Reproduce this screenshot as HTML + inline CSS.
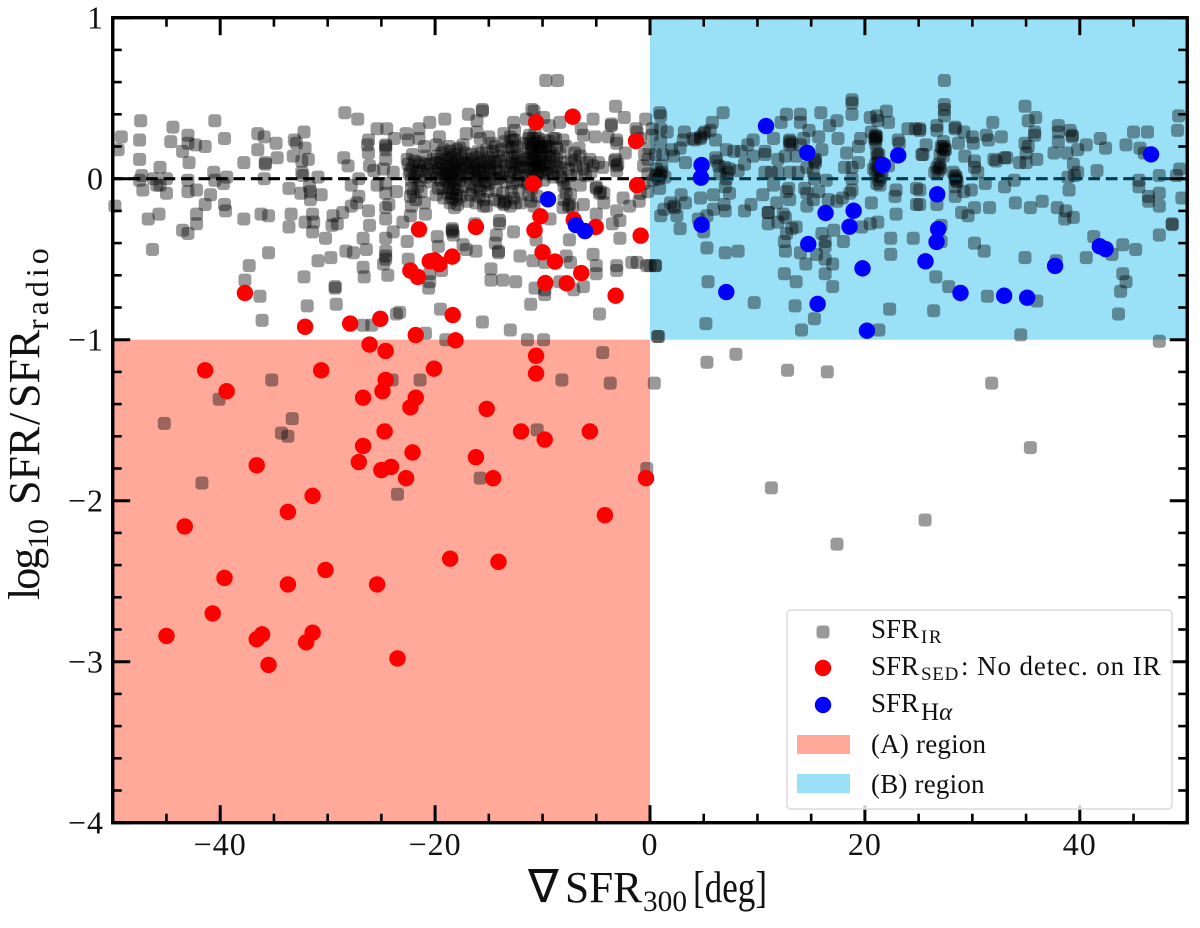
<!DOCTYPE html>
<html lang="en">
<head>
<meta charset="utf-8">
<title>SFR ratio vs SFR gradient</title>
<style>
html,body{margin:0;padding:0;background:#fff}
svg{display:block}
text{font-family:"Liberation Serif","DejaVu Serif",serif;fill:#111}
</style>
</head>
<body>
<svg id="chart" xmlns="http://www.w3.org/2000/svg" width="1200" height="928" viewBox="0 0 1200 928">
  <g id="regions"></g>
  <g id="ir"></g>
  <g id="zero"></g>
  <g id="axes"></g>
  <g id="sed"></g>
  <g id="ha"></g>

  <g>
    <text x="528" y="902" font-size="46" style="font-family:'DejaVu Sans',sans-serif">∇</text>
    <text x="565" y="902" font-size="44" textLength="77" lengthAdjust="spacingAndGlyphs">SFR</text>
    <text x="643" y="911" font-size="30" textLength="44" lengthAdjust="spacingAndGlyphs">300</text>
    <text x="693" y="902" font-size="44" textLength="74" lengthAdjust="spacingAndGlyphs">[deg]</text>
  </g>

  <text transform="translate(39,600) rotate(-90)" font-size="44"><tspan x="0" letter-spacing="-2">log</tspan><tspan x="51" dy="9" font-size="30">10</tspan><tspan x="95" dy="-9">SFR</tspan><tspan x="175">/</tspan><tspan x="192">SFR</tspan><tspan x="270" dy="9" font-size="32" letter-spacing="4">radio</tspan></text>

  <g id="legend">
    <rect x="787" y="610" width="385" height="199" rx="4" fill="#fff" fill-opacity="0.8" stroke="#dcdcdc" stroke-width="1.5"/>
    <rect x="816.5" y="625.5" width="13" height="13" rx="3.5" fill="#000" fill-opacity="0.4"/>
    <circle cx="823" cy="668" r="8.2" fill="#ff0000"/>
    <circle cx="823" cy="705" r="8.2" fill="#0000ff"/>
    <rect x="797" y="735" width="53" height="19" fill="#ffa99a"/>
    <rect x="797" y="774" width="53" height="19" fill="#9ae1f7"/>
    <text x="871" y="638" font-size="27">SFR<tspan x="921" dy="5" font-size="19" letter-spacing="1.5">IR</tspan></text>
    <text x="871" y="675" font-size="27">SFR<tspan x="921" dy="5" font-size="19" letter-spacing="0.7">SED</tspan><tspan x="961" dy="-5" letter-spacing="0.9">: No detec. on IR</tspan></text>
    <text x="871" y="712" font-size="27">SFR<tspan x="921" dy="8" font-size="25">H<tspan font-style="italic">α</tspan></tspan></text>
    <text x="871" y="753" font-size="27" letter-spacing="0.2">(A) region</text>
    <text x="871" y="793" font-size="27" letter-spacing="0.2">(B) region</text>
  </g>
</svg>

<script>
const xDomain = [-50, 50];
const yDomain = [-4, 1];
const xMajorTicks = [-40, -20, 0, 20, 40];
const xTickLabels = ['−40', '−20', '0', '20', '40'];
const xMinorTicks = [-45, -35, -30, -25, -15, -10, -5, 5, 10, 15, 25, 30, 35, 45];
const yMajorTicks = [1, 0, -1, -2, -3, -4];
const yTickLabels = ['1', '0', '−1', '−2', '−3', '−4'];
const yMinorTicks = [0.8, 0.6, 0.4, 0.2, -0.2, -0.4, -0.6, -0.8, -1.2, -1.4, -1.6, -1.8, -2.2, -2.4, -2.6, -2.8, -3.2, -3.4, -3.6, -3.8];
const regionA = [-50, 0, -4, -1];
const regionB = [0, 50, -1, 1];

const irPoints = [
[-47.4,.36],[-49.2,.26],[-47.5,.24],[-49.5,.18],[-47.5,.12],[-44.4,.32],[-44.6,.23],[-43,.27],[-43,.22],[-43.5,.17],[-42.3,.21],[-41.4,.2],[-42.9,.1],[-40.5,.36],[-39.6,.25],[-45.6,.07],[-47.3,.02],[-47.5,-.01],[-47.2,-.07],[-46.2,0],[-45.9,-.04],[-45.6,-.04],[-45,0],[-45,-.09],[-43,-.01],[-43,-.08],[-42.2,-.07],[-40.6,.04],[-40.5,-.01],[-39.4,.01],[-39.7,-.03],[-40.9,-.1],[-41.4,-.16],[-39.6,-.16],[-39.5,-.2],[-49.8,-.17],[-46.7,-.25],[-45.7,-.22],[-43.5,-.32],[-43,-.34],[-42.2,-.22],[-42.2,-.28],[-46.3,-.44],
[-37.8,.1],[-36.5,.28],[-35.9,.26],[-35.8,.09],[-35.8,.1],[-35.9,0],[-36.5,.18],[-34.8,.22],[-34.7,.13],[-36.2,-.22],[-35.5,-.23],[-37.8,-.25],[-35.5,-.46],[-37.3,-.54],[-37.7,-.63],[-36.3,-.73],[-36.1,-.88],[-33.1,.24],[-32.9,.22],[-32.2,.29],[-32.1,.19],[-33.2,.14],[-32.4,.11],[-31.8,.12],[-32.4,.04],[-32.3,.02],[-30.9,.01],[-33.6,-.06],[-32.5,-.09],[-31.7,-.05],[-31.6,-.08],[-31.6,-.13],[-30.6,-.1],[-33.4,-.22],[-33.6,-.3],[-32.1,-.27],[-31.4,-.22],[-31.3,-.27],[-31.4,-.33],[-30.2,-.37],[-32.2,-.61],[-31.9,-.79],[-30.9,-.51],[-29.7,-.49],[-28.3,-.45],[-27.6,-.46],[-29.3,-.67],[-29.3,-.68],[-29.2,-.78],[-29.5,-.23],[-29.6,-.29],[-29.1,-.28],[-28.6,-.21],[-27.8,-.17],[-27.3,-.15],[-27.1,-.11],[-27.8,-.04],[-27.1,0],[-28.5,.13],[-28.1,.08],[-28.4,.41],[-27.2,.37],[-25.4,.31],[-24.5,.31],[-23.8,.25],[-26.2,.24],[-26.3,.21],[-26.2,.16],[-24.6,.21],[-24.6,.18],[-24.6,.2],[-24.6,.12],[-26.1,.08],[-25.7,.05],[-24.8,.06],[-25.4,-.04],[-24.6,-.03],[-23.9,.04],[-24.6,-.09],[-23.6,-.08],[-24.3,-.16],[-24.6,-.18],[-26.2,-.2],[-24.6,-.25],[-26.1,-.29],[-26.7,-.37],[-26.4,-.44],[-24.6,-.37],[-23.9,-.33],[-24.6,-.45],[-24.6,-.48],[-24.6,-.5],[-24.8,-.53],[-24.4,-.6],[-26.7,-.55],[-26.6,-.61],[-26.7,-.91],[-25.9,-.91],[-23.6,-.84],
[-9.7,.61],[-8.6,.61],[-15.6,.43],[-15.6,.42],[-16.9,.4],[-19.1,.37],[-20.5,.35],[-16.1,.36],[-11,.43],[-10.8,.42],[-9.9,.38],[-11.5,.37],[-12.7,.35],[-12.6,.3],[-9.4,.33],[-8.4,.35],[-6.4,.31],[-5.3,.37],[-3.2,.45],[-2.4,.38],[-3.6,.34],[-3.6,.33],[-.4,.37],[-1.3,.31],[-21.5,.31],[-22.7,.28],[-21.5,.25],[-19.6,.26],[-17.1,.28],[-16.1,.29],[-15,.26],[-15.8,.25],[-19.9,.21],[-17.4,.21],[-22.5,.24],[-21,.2],[-13.6,.28],[-12.6,.24],[-8.8,.25],[-8.1,.24],[-6.2,.27],[-5.1,.26],[-3.9,.26],[-3.1,.24],[-3.1,.22],[-2.3,.16],[-.9,.25],[-1.2,.29],[-3.3,.11],[-3.1,.08],[-3.1,.05],
[-22.5,.09],[-22.3,.05],[-22.1,.07],[-21.9,.11],[-21.7,.04],[-21.9,.01],[-22.2,-.01],[-21.6,-.05],[-22,-.09],[-22.3,-.11],[-21.8,-.13],[-21.5,.08],[-21,.09],[-20.7,.06],[-20.9,.01],
[-19.8,.14],[-19.5,.1],[-19.7,.06],[-19.3,.03],[-19.4,.16],[-19,.12],[-18.8,.08],[-18.9,.04],[-18.6,.17],[-18.5,.13],[-18.4,.09],[-18.3,.05],[-18.5,.01],[-18.2,.15],[-18,.18],[-17.9,.11],[-17.8,.07],[-18,.03],[-18.6,-.02],[-18.1,-.03],[-18.3,-.06],[-18.8,-.09],[-18.4,-.12],[-18,-.1],[-18.6,-.15],[-18.2,-.18],[-17.9,-.16],[-17.6,.02],[-17.5,.13],[-19,-.01],[-19.5,-.01],[-19.7,-.06],[-17.2,.09],
[-16.7,.1],[-16.4,.06],[-16.8,.03],[-16.2,.13],[-16,.08],[-16.3,.01],[-15.9,.03],[-15.7,.16],[-15.5,.11],[-15.4,.06],[-15.6,.01],[-15.3,-.02],[-15,.13],[-14.9,.08],[-14.8,.03],[-15,-.03],[-16.2,-.05],[-15.8,-.07],[-14.6,.17],[-14.5,.11],[-14.3,.06],[-14.2,0],[-14.4,.2],[-14.1,.14],
[-16.7,-.1],[-15.5,-.13],[-15.5,-.17],[-14.5,-.13],[-14,-.14],[-13.6,-.16],[-13.4,-.14],[-13,-.17],[-12.7,-.12],[-12.5,-.15],[-12,-.15],
[-13.2,.2],[-13,.26],[-12.8,.24],[-12.6,.16],[-12.5,.09],[-12.9,.1],[-13,.05],[-12.7,.04],[-12.3,.14],[-12.1,.07],[-12.2,.02],[-13.3,.13],
[-11.3,.25],[-11.1,.22],[-10.9,.25],[-10.6,.23],[-10.4,.25],[-11.3,.19],[-11.1,.16],[-10.9,.18],[-10.7,.14],[-10.5,.19],[-10.2,.17],[-11.2,.1],[-10.9,.11],[-10.6,.08],[-10.3,.1],[-10,.13],[-9.8,.09],[-11.1,.05],[-10.8,.06],[-10.5,.03],[-10.2,.05],[-9.9,.04],[-9.6,.06],[-9.3,.1],[-9,.14],[-8.8,.08],[-9.5,.17],[-9.2,.2],[-9,.25],[-10,.2],
[-11.4,-.03],[-11,-.06],[-11.3,-.1],[-11.1,-.14],[-10.8,-.17],[-10.5,-.11],[-8,-.05],[-7.8,-.09],[-8,-.13],[-7.5,-.16],[-7.2,-.18],[-7.4,-.1],[-7.7,-.03],
[-8,.1],[-7.6,.06],[-7.3,.12],[-6.9,.08],[-6.5,.14],[-6.2,.06],[-5.9,.1],[-5.5,.04],[-5.3,.08],[-4.8,.1],[-4.4,.07],[-7,.16],[-7.8,.2],[-6.6,.19],[-6,.02],[-6.5,-.04],[-5,-.05],[-4.6,-.08],[-4.3,-.09],
[-22.1,.15],[-20.9,.14],[-20.2,.12],[-19.2,.18],[-18.7,.2],[-17.7,.19],[-17.2,.16],[-16.6,.15],[-16,.17],[-15.2,.18],[-14.7,.22],[-13.8,.18],[-13.5,.23],[-12.9,.19],[-12.4,.2],[-11.8,.22],
[-22.6,.12],[-21.4,.1],[-20.4,.09],[-19.9,.1],[-19.2,.09],[-18.7,.12],[-18.1,.1],[-17.4,.1],[-16.9,.12],[-16.3,.09],[-15.7,.1],[-15.1,.1],[-14.4,.1],[-13.9,.11],[-13.4,.08],[-12.8,.13],[-12.2,.11],[-11.7,.12],
[-22.4,.03],[-21.2,.05],[-20.5,.03],[-20,.04],[-19.4,.06],[-18.7,.03],[-18.2,.06],[-17.6,.05],[-17,.07],[-16.6,.04],[-16,.05],[-15.4,.03],[-14.9,.05],[-14.1,.04],[-13.6,.05],[-13,.01],[-12.4,.06],[-11.8,.07],[-11.5,.02],
[-21.4,-.01],[-20.4,-.02],[-19.8,.01],[-19,.02],[-18.3,-.01],[-17.7,-.01],[-17.1,.01],[-16.7,-.03],[-16,-.01],[-15.4,-.04],[-14.6,0],[-13.9,.01],[-13.4,-.02],[-12.8,-.03],[-12.3,-.01],[-11.7,-.02],
[-22.2,-.06],[-21.3,-.08],[-19.9,-.1],[-19.3,-.06],[-18.7,-.05],[-17.9,-.07],[-17.4,-.05],[-16.5,-.07],[-15.9,-.11],[-15.1,-.08],[-14.3,-.07],[-13.7,-.09],[-12.9,-.08],[-12.2,-.07],
[-19.2,-.12],[-18.5,-.09],[-18.1,-.13],[-17.6,-.11],[-17,-.14],[-16.2,-.15],
[-11.2,.27],[-10.7,.28],[-10.3,.22],[-9.8,.24],[-11,.12],[-10.6,.11],[-10.2,.13],[-9.7,.15],[-9.3,.13],[-8.7,.12],[-8.4,.16],[-11.3,.06],[-10.9,.02],[-10.4,.07],[-10,.08],[-9.5,.03],[-9.1,.05],[-8.6,.04],[-8.3,.07],[-11,.19],[-10.8,.21],[-10.2,.2],[-9.7,.2],[-11.4,.13],[-9.4,.23],[-8.7,.19],[-8.3,.01],[-9,.01],[-9.9,-.01],[-10.6,-.02],
[-7.4,.02],[-6.8,.03],[-8.1,-.01],[-7,.11],[-5.6,.12],[-3.2,.12],[-3,.09],
[-6.2,-.16],[-5,-.22],[-3.5,-.28],[-2.8,-.26],[-3.1,-.2],[-2.5,-.12],[-1.9,-.17],[-1,-.14],[-.9,-.09],[-4.3,-.15],[-4.7,-.09],[-5,-.06],[-7.6,-.17],[-8.1,-.18],[-9.3,-.25],
[-7.5,-.38],[-2.8,-.37],[-5.3,-.47],[-5,-.54],[-5,-.59],[-3.1,-.54],[-3.1,-.57],[-1.7,-.52],[-1.2,-.52],[-.3,-.54],[.5,-.54],
[-22.6,-.39],[-22.5,-.5],[-19.8,-.36],[-18.4,-.31],[-18.4,-.32],[-18.4,-.33],[-18.3,-.35],[-19.7,-.42],[-17.4,-.41],[-17.1,-.44],[-16.2,-.45],[-20.5,-.59],[-20.5,-.64],[-20.6,-.68],[-19.4,-.57],[-14.8,-.56],[-14.8,-.63],[-13.7,-.63],[-12.5,-.64],[-14.3,-.35],[-14.4,-.4],[-14.1,-.45],[-14.1,-.46],[-12.7,-.33],[-14,-.28],[-14,-.26],[-12.1,-.48],[-10.9,-.51],[-10.6,-.38],[-9.8,-.52],[-7.8,-.48],[-7.4,-.52],[-8.4,-.64],[-10.7,-.68],[-9.8,-.72],[-9.8,-.69],[-7.1,-.69],[-6.2,-.67],[-11.1,-.78],[-4.7,-.84],[-19.5,-.81],[-15.6,-.89],[-13,-.94],[-9.9,-1],[-20.9,-.96],[-19,-1],[-23.3,-.83],[-22.3,-.23],[-23,-.27],[-20.9,-.22],[-21,-.15],[-22.2,-.17],[-16.3,-.28],[-15.2,-.17],[-13.6,-.15],
[18.8,.49],[18.8,.47],[18.8,.4],[6.8,.41],[12.7,.4],[14,.4],[14,.35],[15.9,.41],[17.4,.36],[16.7,.33],[12.2,.35],[11.5,.25],[.9,.41],[1,.39],[1,.31],[1,.23],[5.8,.35],[5.1,.29],[5.6,.3],[4.7,.25],[4,.25],[6.1,.24],[3.2,.29],[3.1,.24],[2.8,.19],[1.6,.29],[.2,.31],[.2,.27],[.5,.15],[1.2,.15],[2,.18],[2.2,.14],[3.3,.1],[1.1,.08],[1.1,.04],[.8,0],[.3,-.01],[.9,-.06],[1.9,-.15],[2.9,-.1],[3.3,-.15],[2.3,-.18],[2.2,-.17],[2.5,-.23],[1,-.23],[1.3,-.19],[2.8,-.31],
[4.2,.24],[4.7,.26],[5,.28],[.6,.06],[1,.02],[.5,.02],[1.4,.01],[.9,.03],[-.6,.08],[-.2,.03],[-.6,-.03],[-.2,-.08],[-.5,.15],[-.1,.19],[-.2,.12],
[6.1,.13],[6.4,.08],[7,.07],[7.4,.06],[8.2,.05],[7.1,.18],[7.8,.17],[8.5,.17],[9.1,.21],[9.6,.24],[9.6,.14],[8.8,.09],[7.1,0],[7,-.05],[7.4,-.09],[5.9,-.1],[4.7,-.12],[5.9,-.19],[6.9,-.16],[7,-.2],[8.8,-.2],[9.4,-.16],[5.3,-.23],[4.5,-.25],[5,-.33],[5.3,-.43],[7,-.46],[8.2,-.45],[5.4,-.64],[9.7,-.77],[5.2,-.9],[.8,-.98],[.5,-.54],[0,-.54],[6.2,.11],[6.5,.03],[7.2,.04],
[10.5,-.1],[10.7,.17],[10.7,.15],[11,-.21],[11,-.21],[11,-.28],[11.5,-.04],[11.3,.04],[10.7,.04],[11.9,.04],[11.8,-.15],[11.9,.12],[12.6,.14],[13,.23],[13,.21],[13,.24],[12.7,-.08],[12.9,-.06],[13,-.13],[12.4,-.22],[12.6,-.24],[11.9,-.27],[13.2,-.31],[13.6,-.3],[12.7,-.34],[12.5,-.39],[12.6,-.45],[14,-.46],[14.5,-.53],[12.5,-.59],[13.6,-.64],[13.5,-.79],[15.3,-.87],[14.1,-.94],[13,.04],[13.8,.04],[14.3,.25],[13.6,.14],[14.8,.3],[15.7,.26],[16,.18],[15.3,.11],[15.4,.12],[16.4,-.01],[15.2,.04],[14.6,.07],[14.4,-.06],[14.6,-.09],[15.7,-.08],[14.6,-.17],[15.2,-.13],[15.3,0],[16.6,-.13],[17.4,-.14],[17.9,-.12],[18.6,-.09],[17.5,.25],[18.3,.16],[18.1,.07],[18.8,.07],[19.4,.1],[19.4,.2],[19.6,.25],[18.8,0],[18.8,-.07],[16,-.34],[16.3,-.39],[16.3,-.42],[15.5,-.47],[16.3,-.5],[17,-.53],[16.3,-.59],[17,-.67],[17.1,-.32],[18,-.39],[19.7,-.3],[20.5,-.28],[21.2,-.27],[20.6,-.15],[22.8,-.11],[22.9,-.07],[22.9,-.22],[22.4,-.37],[22.4,-.47],[24.5,-.37],[22.3,-.81],[21.3,-.94],[24.8,-.16],[14,.21],[13.2,.22],[15.4,.1],
[20.5,.38],[21.1,.39],[22,.42],[22.2,.35],[21.2,.36],[20.6,.29],[21,.27],[21,.26],[21,.24],[21,.22],[21.2,.14],[21.1,.16],[21.3,.15],[20.8,.06],[21.2,.02],[21.6,.04],[21.3,-.01],[21.3,.07],[21,.04],[21.5,.01],[22.2,.08],[23.1,.24],[23.2,.22],[24,.31],[24.7,.31],[25.1,.31],[25.3,.15],[24.8,-.06],[20.9,.25],[21.1,.26],[21,.09],[21.2,.1],[21.4,-.04],[21.1,-.03],
[27.4,.61],[27.4,.46],[27.4,.43],[27.4,.39],[34.9,.45],[35.9,.38],[35.2,.36],[35.8,.29],[35.8,.27],[28.4,.31],[28.4,.32],[26.7,.33],[26.7,.3],[25.1,.3],[31.9,.35],[29.2,.29],[30,.26],[30.1,.22],[31.3,.27],[31.5,.24],[32.7,.26],[25.7,.21],[25.4,.15],[27.3,.23],[27.4,.2],[27.5,.18],[27,.15],[27.3,.14],[27.2,.19],[28.7,.22],[29.3,.14],[30.2,.11],[30.2,.07],[30.5,.04],[32,.12],[32.2,.11],[33.2,.13],[33,.13],[34.4,.1],[35,.1],[34.9,.22],[35.2,.2],[35,.16],[36,.12],[26.7,.07],[27,.07],[26.5,.04],[26.9,.09],[28.2,.04],[28.5,.01],[28.5,-.01],[28.4,.02],[28.4,-.05],[28.4,-.11],[29.2,-.08],[29.9,-.07],[31.2,-.03],[33,-.05],[33.9,-.01],[25.1,-.07],[25.1,-.16],[26.7,-.16],[29,-.21],[29.6,-.23],[30.2,-.18],[31.6,-.18],[34,-.15],[35.4,-.18],[36.5,-.14],[37.9,-.18],[38.7,-.2],[38.6,-.25],[39.4,-.24],[39,-.07],[38.9,.01],[39.4,.09],[39.8,.04],[39.5,.02],[41.6,.05],[37.6,.16],[38.8,.16],[38,.33],[38,.29],[38,.23],[39.1,.3],[39.3,.26],[39.3,.27],[39.8,.18],[40.6,.21],[41.9,.25],[42.4,.19],[44.3,.21],[45,.29],[46.3,.29],[45.6,.19],[46,.16],[49.1,.3],[49.2,.39],[47.4,.02],[45.5,-.01],[45.5,-.05],[46.4,-.11],[46.4,-.14],[47.4,-.09],[47.4,-.17],[49,.02],[49.3,.06],[49.5,-.12],[48.6,-.28],[48.6,-.285],[47.4,-.35],[30.2,-.4],[31.1,-.45],[34.9,-.49],[37.8,-.51],[40.6,-.49],[41.3,-.36],[43,-.47],[44,-.41],[45.2,-.44],[44,-.59],[44.3,-.64],[43.8,-.7],[43.6,-.84],[26.6,-.61],[27.8,-.67],[31.4,-.73],[36,-.76],[26.4,-.82],[34.5,-.97],[47.4,-1.01],[27.1,-.29],[27.1,-.39],[27.4,.18],[27.1,.2],[27,.06],[26.8,.04],[28.4,0],[28.6,-.02],
[-45.2,-1.52],[-41.7,-1.89],[-40.1,-1.37],[-35.2,-1.25],[-34.3,-1.58],[-33.7,-1.6],[-33.3,-1.49],[-24,-1.25],[-23.5,-1.96],[-15.8,-1.86],[-10.5,-1.56],[-8.2,-1.25],[-4.4,-1.08],[-3.7,-1.27],[-.3,-1.8],[.4,-1.27],[5.3,-1.14],[8,-1.09],[11.3,-1.92],[12.8,-1.19],[16.5,-1.2],[17.4,-2.27],[25.6,-2.12],[31.8,-1.27],[35.4,-1.67],[.7,-.98],[-11.4,-1],[-21.4,-1.25]
];

const sedPoints = [
[-37.7,-.71],[-32.1,-.92],[-27.9,-.9],[-25.1,-.87],[-26.1,-1.03],[-24.6,-1.07],[-10.6,.35],[-7.2,.385],[-1.3,.234],[-10.9,-.03],[-1.2,-.04],[-10.2,-.234],[-7.1,-.255],[-5.05,-.3],[-10.75,-.32],[-.87,-.354],[-21.5,-.315],[-16.2,-.3],[-18.4,-.484],[-20.5,-.513],[-20.06,-.507],[-19.6,-.53],[-22.3,-.571],[-21.6,-.61],[-10,-.457],[-8.84,-.515],[-6.4,-.586],[-9.74,-.648],[-7.75,-.65],[-3.2,-.727],[-18.36,-.847],[-21.8,-.971],[-18.1,-1.004],
[-10.6,-1.1],[-10.6,-1.21],[-20.1,-1.18],[-30.6,-1.19],[-41.4,-1.19],[-39.4,-1.32],[-26.7,-1.36],[-24.9,-1.32],[-24.6,-1.25],[-21.8,-1.36],[-22.3,-1.42],[-15.2,-1.43],[-12,-1.57],[-24.7,-1.57],[-9.8,-1.62],[-5.6,-1.57],[-26.7,-1.66],[-22.1,-1.7],[-27.1,-1.76],[-36.6,-1.78],[-16.2,-1.73],[-25,-1.81],[-24.1,-1.79],[-22.7,-1.86],[-14.6,-1.86],[-.37,-1.86],[-31.4,-1.97],[-33.7,-2.07],[-4.2,-2.09],[-43.3,-2.16],[-18.6,-2.36],[-14.1,-2.38],[-30.2,-2.43],[-39.6,-2.48],[-25.4,-2.52],[-33.7,-2.52],[-40.7,-2.7],[-45,-2.84],[-31.4,-2.82],[-32,-2.88],[-36.1,-2.83],[-36.6,-2.86],[-23.5,-2.98],[-35.5,-3.02]
];

const halphaPoints = [
[10.8,.327],[4.8,.085],[4.74,.006],[4.8,-.286],[14.64,.161],[21.67,.085],[23.1,.145],[16.34,-.213],[18.95,-.199],[18.57,-.298],[14.73,-.406],[19.78,-.557],[7.1,-.704],[15.6,-.778],[20.19,-.944],[26.73,-.097],[26.82,-.313],[26.67,-.393],[25.64,-.513],[28.9,-.71],[32.96,-.727],[35.1,-.739],[37.7,-.542],[41.86,-.42],[42.4,-.437],[46.63,.151],[-9.49,-.128],[-6.9,-.288],[-6.05,-.325]
];

const NS = 'http://www.w3.org/2000/svg';
const sx = v => 112.75 + (v - xDomain[0]) / (xDomain[1] - xDomain[0]) * 1074.5;
const sy = v => 17.7 + (yDomain[1] - v) / (yDomain[1] - yDomain[0]) * 805;
const make = (parent, tag, attrs, text) => {
  const el = document.createElementNS(NS, tag);
  for (const k in attrs) el.setAttribute(k, attrs[k]);
  if (text !== undefined) el.textContent = text;
  parent.appendChild(el);
  return el;
};

const gRegions = document.getElementById('regions');
const rectA = make(gRegions, 'rect', {x: sx(regionA[0]), y: sy(regionA[3]), width: sx(regionA[1]) - sx(regionA[0]), height: sy(regionA[2]) - sy(regionA[3]), fill: '#ffa99a'});


const rectB = make(gRegions, 'rect', {x: sx(regionB[0]), y: sy(regionB[3]), width: sx(regionB[1]) - sx(regionB[0]), height: sy(regionB[2]) - sy(regionB[3]), fill: '#9ae1f7'});



const gIr = document.getElementById('ir');
irPoints.forEach(p => {
  const m = make(gIr, 'rect', {x: sx(p[0]) - 6.5, y: sy(p[1]) - 6.5, width: 13, height: 13, rx: 3.5, fill: '#000', 'fill-opacity': 0.4});
  
  
});

const gZero = document.getElementById('zero');
const zeroLeft = make(gZero, 'line', {x1: sx(xDomain[0]), x2: sx(0), y1: sy(0), y2: sy(0), stroke: '#000', 'stroke-width': 3.2, 'stroke-dasharray': '11.65 5.8', 'stroke-dashoffset': 1.5});


const zeroRight = make(gZero, 'line', {x1: sx(0), x2: sx(xDomain[1]), y1: sy(0), y2: sy(0), stroke: '#003a4e', 'stroke-width': 3.2, 'stroke-dasharray': '11.65 5.8', 'stroke-dashoffset': 15.35});



const gAxes = document.getElementById('axes');
const tick = (x1, y1, x2, y2, w, name) => {
  const t = make(gAxes, 'line', {x1, y1, x2, y2, stroke: '#000', 'stroke-width': w});
  
  
};
const L = sx(xDomain[0]), R = sx(xDomain[1]), T = sy(yDomain[1]), B = sy(yDomain[0]);
xMajorTicks.forEach(v => {
  tick(sx(v), B, sx(v), B - 17.5, 3, 'x-major-tick');
  tick(sx(v), T, sx(v), T + 17.5, 3, 'x-major-tick-top');
});
xMinorTicks.forEach(v => {
  tick(sx(v), B, sx(v), B - 9, 2.6, 'x-minor-tick');
  tick(sx(v), T, sx(v), T + 9, 2.6, 'x-minor-tick-top');
});
yMajorTicks.forEach(v => {
  tick(L, sy(v), L + 17.5, sy(v), 3, 'y-major-tick');
  tick(R, sy(v), R - 17.5, sy(v), 3, 'y-major-tick-right');
});
yMinorTicks.forEach(v => {
  tick(L, sy(v), L + 9, sy(v), 2.6, 'y-minor-tick');
  tick(R, sy(v), R - 9, sy(v), 2.6, 'y-minor-tick-right');
});
const frame = make(gAxes, 'rect', {x: L, y: T, width: R - L, height: B - T, fill: 'none', stroke: '#000', 'stroke-width': 3.4});



xMajorTicks.forEach((v, i) => {
  const t = make(gAxes, 'text', {x: sx(v), y: 855, 'text-anchor': 'middle', 'font-size': 32, 'letter-spacing': 1}, xTickLabels[i]);
  
  
});
yMajorTicks.forEach((v, i) => {
  const t = make(gAxes, 'text', {x: 104, y: sy(v) + 11, 'text-anchor': 'end', 'font-size': 32, 'letter-spacing': 1}, yTickLabels[i]);
  
  
});

const gSed = document.getElementById('sed');
sedPoints.forEach(p => {
  const c = make(gSed, 'circle', {cx: sx(p[0]), cy: sy(p[1]), r: 8.2, fill: '#ff0000'});
  
  
});

const gHa = document.getElementById('ha');
halphaPoints.forEach(p => {
  const c = make(gHa, 'circle', {cx: sx(p[0]), cy: sy(p[1]), r: 8.2, fill: '#0000ff'});
  
  
});
</script>
</body>
</html>
